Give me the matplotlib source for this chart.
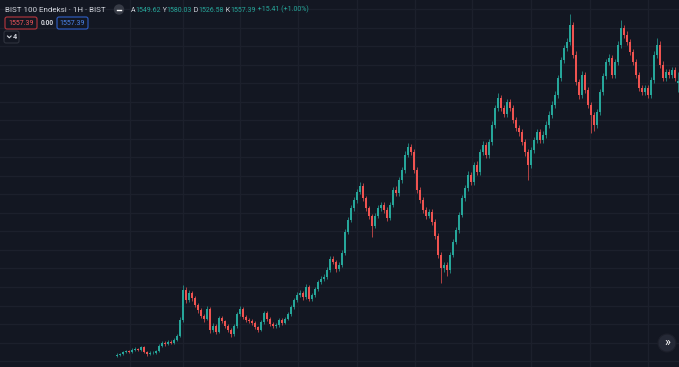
import numpy as np
import matplotlib.pyplot as plt
from matplotlib.patches import Circle, FancyBboxPatch

# BIST 100, 1H candles
opens = [815, 817, 819, 825, 827, 825, 830, 833, 830, 838,
         825, 819, 822, 822, 827, 841, 849, 846, 852, 849,
         857, 868, 911, 992, 965, 984, 970, 952, 938, 922,
         914, 941, 884, 895, 879, 916, 908, 895, 884, 873,
         895, 927, 941, 919, 911, 908, 903, 892, 884, 906,
         930, 914, 900, 895, 898, 911, 903, 914, 927, 946,
         965, 979, 984, 973, 1000, 968, 979, 995, 1014, 1022,
         1027, 1046, 1076, 1068, 1049, 1060, 1092, 1149, 1181, 1213,
         1235, 1257, 1273, 1240, 1213, 1192, 1165, 1192, 1213, 1222,
         1208, 1186, 1222, 1262, 1254, 1289, 1316, 1357, 1378, 1365,
         1316, 1262, 1235, 1208, 1192, 1203, 1176, 1138, 1087, 1051,
         1060, 1046, 1087, 1122, 1154, 1195, 1240, 1267, 1303, 1284,
         1330, 1311, 1365, 1384, 1357, 1392, 1438, 1483, 1510, 1483,
         1467, 1500, 1483, 1451, 1429, 1419, 1392, 1365, 1330, 1370,
         1397, 1419, 1397, 1411, 1438, 1465, 1492, 1519, 1564, 1613,
         1645, 1662, 1708, 1627, 1554, 1519, 1573, 1532, 1492, 1465,
         1438, 1473, 1527, 1570, 1608, 1618, 1573, 1608, 1654, 1699,
         1681, 1662, 1635, 1608, 1573, 1537, 1527, 1537, 1519, 1559,
         1627, 1654, 1600, 1564, 1581, 1573, 1586, 1549.62]
highs = [821, 822, 828, 831, 830, 834, 838, 836, 842, 840,
         828, 826, 826, 831, 845, 853, 853, 856, 856, 862,
         874, 918, 1006, 1000, 993, 990, 976, 958, 944, 927,
         948, 946, 902, 900, 922, 921, 912, 899, 888, 900,
         933, 948, 945, 924, 916, 913, 907, 896, 911, 936,
         934, 918, 905, 903, 916, 915, 919, 932, 952, 971,
         986, 991, 990, 1007, 1005, 985, 1001, 1020, 1029, 1034,
         1053, 1083, 1084, 1074, 1067, 1099, 1157, 1189, 1221, 1243,
         1265, 1284, 1280, 1247, 1220, 1198, 1199, 1221, 1230, 1229,
         1215, 1230, 1270, 1272, 1297, 1325, 1366, 1389, 1386, 1372,
         1323, 1270, 1243, 1216, 1211, 1210, 1183, 1145, 1095, 1068,
         1068, 1094, 1130, 1162, 1203, 1248, 1276, 1312, 1311, 1338,
         1339, 1374, 1393, 1392, 1401, 1447, 1492, 1524, 1518, 1491,
         1509, 1508, 1491, 1460, 1437, 1427, 1400, 1373, 1378, 1405,
         1428, 1427, 1420, 1447, 1474, 1501, 1528, 1573, 1622, 1654,
         1672, 1737, 1716, 1636, 1563, 1582, 1581, 1540, 1500, 1473,
         1481, 1536, 1579, 1617, 1628, 1626, 1617, 1663, 1721, 1708,
         1690, 1671, 1644, 1617, 1581, 1546, 1546, 1545, 1568, 1636,
         1672, 1663, 1609, 1590, 1590, 1595, 1594, 1580.03]
lows = [812, 815, 817, 822, 821, 823, 828, 827, 828, 821,
        815, 816, 818, 820, 825, 838, 842, 843, 845, 846,
        854, 865, 905, 958, 960, 963, 945, 930, 915, 906,
        910, 876, 879, 872, 875, 902, 889, 878, 866, 869,
        890, 922, 913, 905, 902, 897, 886, 878, 880, 901,
        908, 894, 889, 890, 893, 898, 899, 910, 922, 941,
        960, 973, 966, 968, 961, 962, 974, 990, 1008, 1015,
        1021, 1040, 1061, 1041, 1043, 1054, 1087, 1142, 1175, 1206,
        1228, 1250, 1232, 1205, 1184, 1135, 1158, 1186, 1206, 1200,
        1178, 1180, 1215, 1246, 1247, 1282, 1309, 1350, 1356, 1307,
        1253, 1226, 1199, 1183, 1185, 1168, 1129, 1078, 1011, 1040,
        1030, 1039, 1080, 1115, 1147, 1188, 1232, 1259, 1275, 1276,
        1302, 1303, 1357, 1348, 1349, 1384, 1430, 1475, 1474, 1458,
        1459, 1474, 1442, 1420, 1409, 1383, 1355, 1289, 1321, 1362,
        1389, 1388, 1389, 1403, 1430, 1457, 1484, 1511, 1556, 1605,
        1636, 1654, 1618, 1545, 1508, 1511, 1523, 1483, 1416, 1420,
        1429, 1465, 1519, 1562, 1599, 1564, 1565, 1600, 1646, 1672,
        1653, 1626, 1599, 1564, 1528, 1518, 1518, 1510, 1511, 1551,
        1619, 1591, 1555, 1556, 1564, 1565, 1555, 1526.58]
closes = [817, 819, 825, 827, 825, 830, 833, 830, 838, 825,
          819, 822, 822, 827, 841, 849, 846, 852, 849, 857,
          868, 911, 992, 965, 984, 970, 952, 938, 922, 914,
          941, 884, 895, 879, 916, 908, 895, 884, 873, 895,
          927, 941, 919, 911, 908, 903, 892, 884, 906, 930,
          914, 900, 895, 898, 911, 903, 914, 927, 946, 965,
          979, 984, 973, 1000, 968, 979, 995, 1014, 1022, 1027,
          1046, 1076, 1068, 1049, 1060, 1092, 1149, 1181, 1213, 1235,
          1257, 1273, 1240, 1213, 1192, 1165, 1192, 1213, 1222, 1208,
          1186, 1222, 1262, 1254, 1289, 1316, 1357, 1378, 1365, 1316,
          1262, 1235, 1208, 1192, 1203, 1176, 1138, 1087, 1051, 1060,
          1046, 1087, 1122, 1154, 1195, 1240, 1267, 1303, 1284, 1330,
          1311, 1365, 1384, 1357, 1392, 1438, 1483, 1510, 1483, 1467,
          1500, 1483, 1451, 1429, 1419, 1392, 1365, 1330, 1370, 1397,
          1419, 1397, 1411, 1438, 1465, 1492, 1519, 1564, 1613, 1645,
          1662, 1708, 1627, 1554, 1519, 1573, 1532, 1492, 1465, 1438,
          1473, 1527, 1570, 1608, 1618, 1573, 1608, 1654, 1699, 1681,
          1662, 1635, 1608, 1573, 1537, 1527, 1537, 1519, 1559, 1627,
          1654, 1600, 1564, 1581, 1573, 1586, 1564, 1557.39]

# time grid lines fall on these bar numbers
time_marks = [4.33, 22, 41, 60.33, 80, 99.33, 118.33, 138, 157.67, 177]

title = "BIST 100 Endeksi · 1H · BIST"
ohlc = [("A", "1549.62"), ("Y", "1580.03"), ("D", "1526.58"), ("K", "1557.39")]
change = "+15.41 (+1.00%)"
last_price = "1557.39"

BG = '#131722'
UP = '#26a69a'
DOWN = '#ef5350'
TXT = '#d1d4dc'

o = np.array(opens, dtype=float)
h = np.array(highs, dtype=float)
l = np.array(lows, dtype=float)
c = np.array(closes, dtype=float)
x = np.arange(len(c))
cols = np.where(c >= o, UP, DOWN)

fig = plt.figure(figsize=(6.79, 3.67), dpi=100, facecolor=BG)
ax = fig.add_axes([0, 0, 1, 1], facecolor=BG)

ax.vlines(x, l, h, colors=cols, linewidth=0.5)
body_lo = np.minimum(o, c)
body_h = np.maximum(np.abs(c - o), 1.0)
ax.bar(x, body_h, bottom=body_lo, width=0.5, color=cols, linewidth=0)

ax.set_xlim(-39, 187.33)
ax.set_ylim(784, 1775)
ax.set_yticks(np.arange(800, 1800, 50))
ax.set_xticks(time_marks)
ax.grid(True, color='#1c202c', linewidth=0.9)
ax.set_axisbelow(True)
ax.tick_params(length=0, labelbottom=False, labelleft=False)
for s in ax.spines.values():
    s.set_visible(False)

# overlay in pixel coords for the header widgets
ov = fig.add_axes([0, 0, 1, 1], facecolor='none')
ov.set_xlim(0, 679)
ov.set_ylim(367, 0)
ov.axis('off')

fam = ['Roboto', 'DejaVu Sans']
ov.text(5, 9.5, title, color=TXT, fontsize=5.8, va='center', family=fam)

ov.add_patch(Circle((119, 9.5), 5.2, fc='#363a45', ec='none'))
ov.plot([117, 121], [9.5, 9.5], color='white', lw=1.0)

fs = 5.0
t = ov.text(131, 10, ohlc[0][0], color=TXT, fontsize=fs, va='center', family=fam)
t = ov.annotate(ohlc[0][1], xy=(1, 0), xycoords=t, va='bottom', color=UP,
                fontsize=fs, family=fam)
for k, v in ohlc[1:]:
    t = ov.annotate(" " + k, xy=(1, 0), xycoords=t, va='bottom', color=TXT,
                    fontsize=fs, family=fam)
    t = ov.annotate(v, xy=(1, 0), xycoords=t, va='bottom', color=UP,
                    fontsize=fs, family=fam)
ov.annotate(" " + change, xy=(1, 0), xycoords=t, va='bottom', color=UP,
            fontsize=fs, family=fam)

# price boxes
ov.add_patch(FancyBboxPatch((5, 17), 32, 12, boxstyle='round,pad=0,rounding_size=2',
                            fc=BG, ec='#b8363d', lw=0.8))
ov.text(21, 23.2, last_price, color='#f0565c', fontsize=5.0, ha='center', va='center', family=fam)
ov.text(41, 23.2, "0.00", color=TXT, fontsize=4.8, va='center', weight='bold', family=fam)
ov.add_patch(FancyBboxPatch((57, 17), 31, 12, boxstyle='round,pad=0,rounding_size=2',
                            fc=BG, ec='#2e5fc9', lw=0.8))
ov.text(72.5, 23.2, last_price, color='#4c86ee', fontsize=5.0, ha='center', va='center', family=fam)

ov.add_patch(FancyBboxPatch((4, 31), 15, 12, boxstyle='round,pad=0,rounding_size=2',
                            fc=BG, ec='#2f333e', lw=0.8))
ov.plot([7.5, 9.3, 11.1], [36, 37.8, 36], color=TXT, lw=0.8)
ov.text(13.3, 37.3, "4", color=TXT, fontsize=5.3, va='center', weight='bold', family=fam)

# scroll-to-end button
ov.add_patch(Circle((667, 343), 9, fc='#252936', ec='#1c1f2a', lw=0.8))
ov.text(667.5, 342.5, "»", color='white', fontsize=9, ha='center', va='center', family=fam)

fig.savefig('out.png', dpi=100, facecolor=BG)
